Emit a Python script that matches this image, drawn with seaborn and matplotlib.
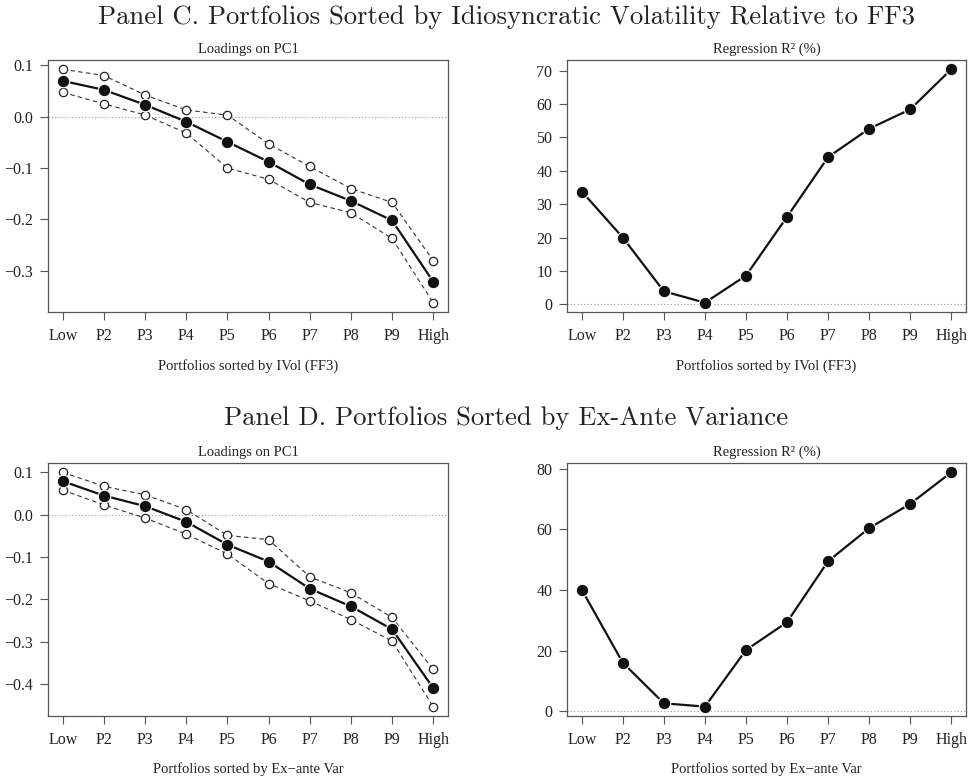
import matplotlib
matplotlib.use('Agg')
import matplotlib.pyplot as plt
import matplotlib.ticker as mticker
import numpy as np
import pandas as pd
import seaborn as sns

# Data
portfolios = ['Low', 'P2', 'P3', 'P4', 'P5', 'P6', 'P7', 'P8', 'P9', 'High']

# Panel C: IVol (FF3)
c_load = [0.0695, 0.052, 0.023, -0.010, -0.049, -0.088, -0.132, -0.164, -0.202, -0.321]
c_load_hi = [0.092, 0.080, 0.042, 0.013, 0.003, -0.053, -0.097, -0.140, -0.167, -0.280]
c_load_lo = [0.047, 0.025, 0.003, -0.032, -0.100, -0.122, -0.167, -0.187, -0.237, -0.362]
c_r2 = [33.8, 20.0, 3.9, 0.5, 8.6, 26.2, 44.1, 52.6, 58.4, 70.4]

# Panel D: Ex-ante variance
d_load = [0.079, 0.045, 0.020, -0.017, -0.071, -0.111, -0.175, -0.217, -0.271, -0.410]
d_load_hi = [0.100, 0.067, 0.047, 0.012, -0.049, -0.059, -0.147, -0.185, -0.243, -0.366]
d_load_lo = [0.058, 0.023, -0.008, -0.046, -0.093, -0.163, -0.204, -0.248, -0.299, -0.454]
d_r2 = [40.1, 16.0, 2.65, 1.55, 20.2, 29.4, 49.5, 60.4, 68.4, 78.8]

sns.set_style('ticks')
plt.rcParams['font.family'] = ['Liberation Serif', 'DejaVu Serif']

TXT = '#222222'
BOX = '#555555'

fig = plt.figure(figsize=(9.7, 7.78), dpi=100)
W, H = 970, 778


def add_ax(left, top, right, bottom):
    return fig.add_axes([left / W, 1 - bottom / H, (right - left) / W, (bottom - top) / H])


def minus_fmt(fmt):
    return mticker.FuncFormatter(lambda v, pos: (fmt % v).replace('-', '\u2212'))


def style_ax(ax, yticks, fmt, title, xlabel):
    x = np.arange(1, len(portfolios) + 1)
    ax.set_xticks(x)
    ax.set_xticklabels(portfolios)
    ax.set_xlim(0.64, 10.36)
    ax.set_yticks(yticks)
    ax.yaxis.set_major_formatter(minus_fmt(fmt))
    ax.margins(y=0.04)
    ax.axhline(0, color='#999999', lw=0.8, ls=(0, (1, 2)), zorder=0)
    for sp in ax.spines.values():
        sp.set_visible(True)
        sp.set_color(BOX)
        sp.set_linewidth(0.9)
    ax.tick_params(axis='both', direction='out', length=5.5, width=0.8, color=BOX,
                   labelsize=11.5, labelcolor=TXT, pad=5)
    ax.tick_params(axis='x', pad=6)
    ax.set_title(title, fontsize=10.5, color=TXT, pad=5)
    ax.set_xlabel(xlabel, fontsize=10.5, color=TXT, labelpad=10.5)
    ax.set_ylabel('')
    ax.grid(False)


def draw_loadings(ax, main, hi, lo, title, xlabel, yticks):
    df = pd.DataFrame({'x': np.arange(1, 11), 'main': main, 'hi': hi, 'lo': lo})
    for col in ['hi', 'lo']:
        sns.lineplot(data=df, x='x', y=col, ax=ax, color='#333333', lw=0.8,
                     linestyle=(0, (4, 3)), marker='o', markersize=6,
                     markerfacecolor='white', markeredgecolor='#222222',
                     markeredgewidth=0.9)
    sns.lineplot(data=df, x='x', y='main', ax=ax, color='#111111', lw=1.6,
                 marker='o', markersize=9, markerfacecolor='#111111',
                 markeredgecolor='white', markeredgewidth=0.8)
    style_ax(ax, yticks, '%.1f', title, xlabel)


def draw_r2(ax, r2, title, xlabel, yticks):
    df = pd.DataFrame({'x': np.arange(1, 11), 'r2': r2})
    sns.lineplot(data=df, x='x', y='r2', ax=ax, color='#111111', lw=1.6,
                 marker='o', markersize=9, markerfacecolor='#111111',
                 markeredgecolor='white', markeredgewidth=0.8)
    style_ax(ax, yticks, '%d', title, xlabel)


ax1 = add_ax(48, 60, 448, 312)
ax2 = add_ax(567, 60, 966, 312)
ax3 = add_ax(48, 463, 448, 716)
ax4 = add_ax(567, 463, 966, 716)

draw_loadings(ax1, c_load, c_load_hi, c_load_lo, 'Loadings on PC1',
              'Portfolios sorted by IVol (FF3)', [-0.3, -0.2, -0.1, 0.0, 0.1])
draw_r2(ax2, c_r2, 'Regression R\u00b2 (%)', 'Portfolios sorted by IVol (FF3)',
        list(range(0, 71, 10)))
draw_loadings(ax3, d_load, d_load_hi, d_load_lo, 'Loadings on PC1',
              'Portfolios sorted by Ex\u2212ante Var', [-0.4, -0.3, -0.2, -0.1, 0.0, 0.1])
draw_r2(ax4, d_r2, 'Regression R\u00b2 (%)', 'Portfolios sorted by Ex\u2212ante Var',
        list(range(0, 81, 20)))

fig.text(506 / W, 1 - 17 / H, 'Panel C. Portfolios Sorted by Idiosyncratic Volatility Relative to FF3',
         ha='center', va='center', fontsize=19.2, color=TXT, family='cmr10')
fig.text(506 / W, 1 - 418 / H, 'Panel D. Portfolios Sorted by Ex-Ante Variance',
         ha='center', va='center', fontsize=19.2, color=TXT, family='cmr10')

fig.savefig('out.png', dpi=100)
